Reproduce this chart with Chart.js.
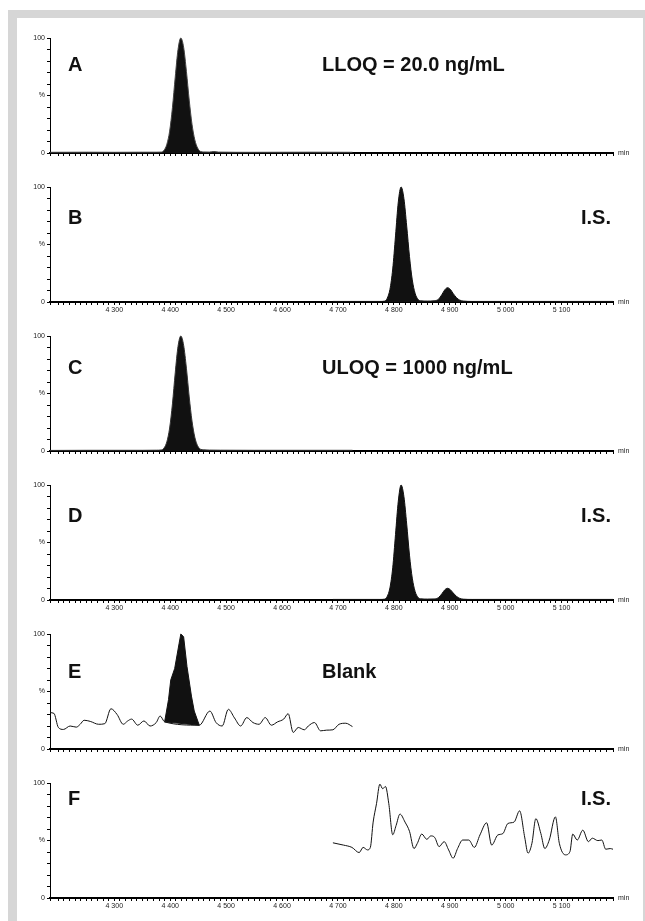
<!DOCTYPE html>
<html>
<head>
<meta charset="utf-8">
<script src="https://cdn.jsdelivr.net/npm/chart.js@4.4.1/dist/chart.umd.min.js"></script>
<style>
  html, body { margin: 0; padding: 0; background: #fff; }
  body { width: 645px; height: 921px; position: relative; overflow: hidden; font-family: 'Liberation Sans', Arial, sans-serif; }
  .frame { position: absolute; left: 8px; top: 10px; width: 626px; height: 911px;
           border-top: 8px solid #d6d6d6; border-left: 9px solid #d6d6d6; border-right: 2px solid #d6d6d6; }
  .panel { position: absolute; left: 0; width: 645px; height: 143px; }
  .lbl { position: absolute; font-weight: bold; font-size: 20px; line-height: 20px; color: #111; white-space: nowrap; }
</style>
</head>
<body>
<div class="frame"></div>

<div class="panel" style="top:28px"><canvas id="chartA" width="645" height="143"></canvas></div>
<div class="panel" style="top:177px"><canvas id="chartB" width="645" height="143"></canvas></div>
<div class="panel" style="top:326px"><canvas id="chartC" width="645" height="143"></canvas></div>
<div class="panel" style="top:475px"><canvas id="chartD" width="645" height="143"></canvas></div>
<div class="panel" style="top:624px"><canvas id="chartE" width="645" height="143"></canvas></div>
<div class="panel" style="top:773px"><canvas id="chartF" width="645" height="143"></canvas></div>

<div class="lbl" style="left:68px; top:54px">A</div>
<div class="lbl" style="left:322px; top:54px">LLOQ = 20.0 ng/mL</div>
<div class="lbl" style="left:68px; top:207px">B</div>
<div class="lbl" style="right:34px; top:207px">I.S.</div>
<div class="lbl" style="left:68px; top:357px">C</div>
<div class="lbl" style="left:322px; top:357px">ULOQ = 1000 ng/mL</div>
<div class="lbl" style="left:68px; top:505px">D</div>
<div class="lbl" style="right:34px; top:505px">I.S.</div>
<div class="lbl" style="left:68px; top:661px">E</div>
<div class="lbl" style="left:322px; top:661px">Blank</div>
<div class="lbl" style="left:68px; top:788px">F</div>
<div class="lbl" style="right:34px; top:788px">I.S.</div>

<script>
// retention time axis (min) and its labels
const xMin = 4.185;
const xMax = 5.192;
const xTickValues = [4.3, 4.4, 4.5, 4.6, 4.7, 4.8, 4.9, 5.0, 5.1];
const xTickLabels = ['4 300', '4 400', '4 500', '4 600', '4 700', '4 800', '4 900', '5 000', '5 100'];

// A - analyte at LLOQ
const aTime = [4.185, 4.25, 4.30, 4.35, 4.375, 4.384, 4.389, 4.394, 4.399, 4.404, 4.409, 4.414, 4.419, 4.424, 4.429, 4.434, 4.439, 4.444, 4.449, 4.454, 4.46, 4.47, 4.478, 4.486, 4.55, 4.65, 4.726];
const aSignal = [0.6, 0.7, 0.6, 0.7, 0.7, 0.8, 2.4, 7.6, 19, 39.5, 66, 90, 100, 92, 71, 46, 25, 11.5, 4.4, 1.4, 0.9, 0.8, 1.3, 0.8, 0.6, 0.7, 0.6];

// B - internal standard
const bTime = [4.691, 4.75, 4.775, 4.783, 4.788, 4.793, 4.798, 4.803, 4.808, 4.813, 4.818, 4.823, 4.828, 4.833, 4.838, 4.843, 4.848, 4.86, 4.872, 4.880, 4.886, 4.891, 4.896, 4.901, 4.906, 4.912, 4.918, 4.925, 4.94, 5.0, 5.1, 5.192];
const bSignal = [0.5, 0.5, 0.5, 0.7, 3.1, 10.9, 28.7, 57.5, 87, 100, 90, 66, 39.5, 19.2, 7.6, 2.4, 1.0, 0.8, 1.0, 2.5, 6.5, 10.5, 12.5, 11, 7.5, 3.8, 1.6, 0.8, 0.5, 0.5, 0.5, 0.5];

// C - analyte at ULOQ
const cTime = [4.185, 4.25, 4.30, 4.35, 4.375, 4.384, 4.389, 4.394, 4.399, 4.404, 4.409, 4.414, 4.419, 4.424, 4.429, 4.434, 4.439, 4.444, 4.449, 4.454, 4.46, 4.47, 4.49, 4.55, 4.65, 4.726];
const cSignal = [0.5, 0.6, 0.6, 0.6, 0.7, 0.9, 2.6, 8, 20, 41, 68, 91, 100, 92, 72, 47, 26, 12, 4.6, 1.6, 1.0, 0.8, 0.7, 0.6, 0.6, 0.6];

// D - internal standard
const dTime = [4.691, 4.75, 4.775, 4.783, 4.788, 4.793, 4.798, 4.803, 4.808, 4.813, 4.818, 4.823, 4.828, 4.833, 4.838, 4.843, 4.848, 4.86, 4.872, 4.880, 4.886, 4.891, 4.896, 4.901, 4.906, 4.912, 4.918, 4.925, 4.94, 5.0, 5.1, 5.192];
const dSignal = [0.5, 0.5, 0.5, 0.7, 3.0, 10.5, 28, 57, 86, 100, 90, 66, 39, 19, 7.5, 2.4, 1.0, 0.8, 0.9, 2.2, 5.5, 8.8, 10.2, 9, 6.2, 3.2, 1.4, 0.7, 0.5, 0.5, 0.5, 0.5];

// E - blank, noise trace plus integrated area
const eTime = [4.185, 4.192, 4.200, 4.209, 4.221, 4.232, 4.239, 4.246, 4.257, 4.272, 4.283, 4.294, 4.305, 4.316, 4.324, 4.331, 4.342, 4.353, 4.364, 4.375, 4.382, 4.390, 4.452, 4.471, 4.482, 4.493, 4.504, 4.515, 4.526, 4.537, 4.548, 4.559, 4.570, 4.581, 4.592, 4.603, 4.611, 4.620, 4.629, 4.640, 4.647, 4.658, 4.669, 4.680, 4.691, 4.702, 4.714, 4.726];
const eSignal = [31.6, 31, 18.7, 17, 20, 19, 21.5, 25, 24, 21.5, 22, 35, 30, 21.5, 24.4, 26, 20.7, 24.4, 20, 23, 28.7, 23.6, 20.7, 33, 23, 20, 34.5, 27, 20, 27.3, 23, 21.5, 27.3, 20.7, 23.6, 26, 30.7, 14.4, 18.7, 16.7, 20, 23, 15.8, 16.4, 16.7, 21.5, 22.4, 19.5];
const ePeakTime = [4.390, 4.397, 4.401, 4.408, 4.416, 4.419, 4.424, 4.430, 4.438, 4.443, 4.452, 4.390];
const ePeakSignal = [23.6, 43, 60, 70, 92, 100, 97.7, 71.8, 46, 33, 20.7, 23.6];

// F - blank, internal standard channel
const fTime = [4.691, 4.710, 4.725, 4.738, 4.745, 4.753, 4.758, 4.763, 4.769, 4.775, 4.780, 4.785, 4.791, 4.798, 4.804, 4.811, 4.820, 4.828, 4.836, 4.842, 4.850, 4.859, 4.866, 4.873, 4.881, 4.890, 4.898, 4.906, 4.914, 4.923, 4.934, 4.944, 4.954, 4.966, 4.975, 4.986, 4.995, 5.004, 5.015, 5.025, 5.034, 5.040, 5.047, 5.054, 5.063, 5.070, 5.078, 5.089, 5.096, 5.107, 5.115, 5.120, 5.128, 5.138, 5.148, 5.155, 5.165, 5.172, 5.179, 5.187, 5.192];
const fSignal = [48, 46, 44, 39.5, 44, 41.8, 44, 66, 82, 99, 95, 97, 82, 55, 63, 73, 66, 58, 43, 47.5, 55.6, 51, 54, 52.7, 44.7, 49, 41.8, 34.6, 43, 50.4, 50.4, 44, 54.8, 65.4, 46, 54.8, 56, 64.8, 66, 75.8, 53, 39, 47.6, 69, 56, 43, 50.4, 70.6, 47.6, 37.5, 40.3, 55.6, 50.4, 59, 49, 52, 49.9, 50.4, 42.4, 43, 42.4];

function points(xs, ys) {
    return xs.map(function (x, i) { return { x: x, y: ys[i] }; });
}

const minLabel = {
    id: 'minLabel',
    afterDraw(chart) {
        const ctx = chart.ctx;
        const area = chart.chartArea;
        ctx.save();
        ctx.font = '7px "Liberation Sans", Arial, sans-serif';
        ctx.fillStyle = '#222';
        ctx.textBaseline = 'middle';
        ctx.fillText('min', area.right + 5, area.bottom);
        ctx.restore();
    }
};

function makePanel(id, datasets, showLabels) {
    new Chart(document.getElementById(id), {
        type: 'line',
        data: { datasets: datasets },
        options: {
            responsive: false,
            animation: false,
            events: [],
            layout: { padding: { top: 10, right: 32, left: 0, bottom: 0 } },
            plugins: { legend: { display: false }, tooltip: { enabled: false } },
            elements: { point: { radius: 0 } },
            scales: {
                x: {
                    type: 'linear',
                    min: xMin,
                    max: xMax,
                    afterFit: function (scale) { scale.height = 18; },
                    border: { color: '#000', width: 2 },
                    grid: { display: true, drawOnChartArea: false, tickLength: 3, color: '#000', lineWidth: 1 },
                    ticks: {
                        display: showLabels,
                        stepSize: 0.01,
                        autoSkip: false,
                        maxRotation: 0,
                        padding: 1,
                        color: '#222',
                        font: { family: 'Liberation Sans', size: 7 },
                        callback: function (v) {
                            for (let i = 0; i < xTickValues.length; i++) {
                                if (Math.abs(v - xTickValues[i]) < 1e-6) return xTickLabels[i];
                            }
                            return '';
                        }
                    }
                },
                y: {
                    min: 0,
                    max: 100,
                    afterFit: function (scale) { scale.width = 50; },
                    border: { color: '#000', width: 1 },
                    grid: { display: true, drawOnChartArea: false, tickLength: 3, color: '#000', lineWidth: 1 },
                    ticks: {
                        stepSize: 10,
                        autoSkip: false,
                        padding: 2,
                        color: '#222',
                        font: { family: 'Liberation Sans', size: 7 },
                        callback: function (v) {
                            if (v === 100) return '100';
                            if (v === 50) return '%';
                            if (v === 0) return '0';
                            return '';
                        }
                    }
                }
            }
        },
        plugins: [minLabel]
    });
}

function peakSet(xs, ys, lineColor) {
    return {
        data: points(xs, ys),
        borderColor: lineColor,
        borderWidth: 1,
        backgroundColor: '#111',
        fill: 'origin',
        cubicInterpolationMode: 'monotone',
        clip: 4
    };
}

makePanel('chartA', [peakSet(aTime, aSignal, '#444')], false);
makePanel('chartB', [peakSet(bTime, bSignal, '#111')], true);
makePanel('chartC', [peakSet(cTime, cSignal, '#333')], false);
makePanel('chartD', [peakSet(dTime, dSignal, '#111')], true);

makePanel('chartE', [
    {
        data: points(ePeakTime, ePeakSignal),
        borderColor: '#111',
        borderWidth: 1,
        backgroundColor: '#111',
        fill: 'shape',
        tension: 0,
        clip: 4
    },
    {
        data: points(eTime, eSignal),
        borderColor: '#111',
        borderWidth: 1,
        fill: false,
        cubicInterpolationMode: 'monotone',
        clip: 4
    }
], false);

makePanel('chartF', [
    {
        data: points(fTime, fSignal),
        borderColor: '#111',
        borderWidth: 1,
        fill: false,
        cubicInterpolationMode: 'monotone',
        clip: 4
    }
], true);
</script>
</body>
</html>
